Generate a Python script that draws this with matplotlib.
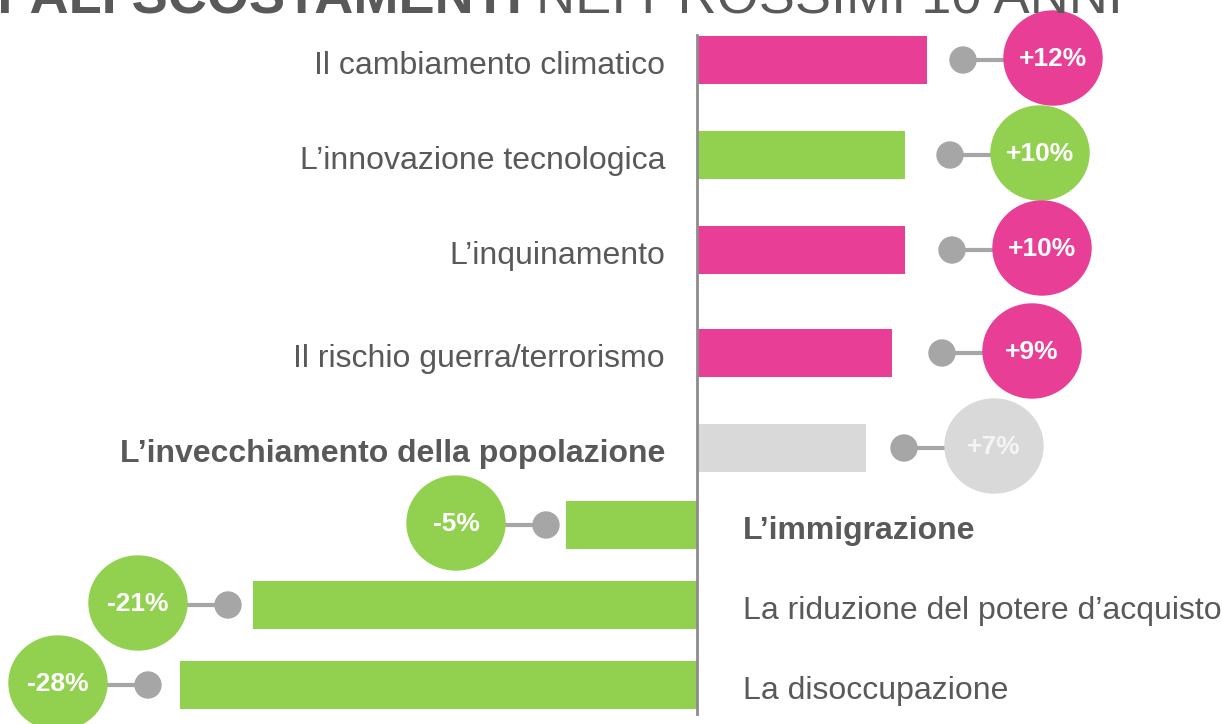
import matplotlib
matplotlib.use("Agg")
import matplotlib.pyplot as plt
from matplotlib.patches import Ellipse

# data (bar = current level, prev = grey dot, delta = bubble)
labels = ["Il cambiamento climatico", "L\u2019innovazione tecnologica", "L\u2019inquinamento",
          "Il rischio guerra/terrorismo", "L\u2019invecchiamento della popolazione",
          "L\u2019immigrazione", "La riduzione del potere d\u2019acquisto", "La disoccupazione"]
bar_vals = [23.0, 20.8, 20.8, 19.5, 16.9, -13.1, -44.4, -51.7]
prev_vals = [26.6, 25.3, 25.5, 24.5, 20.7, -15.1, -46.9, -54.9]
deltas = ["+12%", "+10%", "+10%", "+9%", "+7%", "-5%", "-21%", "-28%"]
colors = ["#E83E96", "#92D050", "#E83E96", "#E83E96", "#D9D9D9", "#92D050", "#92D050", "#92D050"]
bold_rows = [4, 5]

# layout (pixel rows, top to bottom)
row_y = [60, 155, 250, 353, 448, 525, 605, 685]

TXT = "#595959"
DOT = "#A6A6A6"
plt.rcParams["font.family"] = ["Liberation Sans", "DejaVu Sans"]

fig = plt.figure(figsize=(12.22, 7.24), dpi=100)
ax = fig.add_axes([0, 0, 1, 1])
ax.set_xlim(-69.7, 52.5)
ax.set_ylim(724, 0)
ax.axis("off")

ax.barh(row_y, bar_vals, height=48, color=colors, zorder=2)
ax.plot([0, 0], [35, 714], color="#8C8C8C", lw=2, zorder=3)

for i in range(len(labels)):
    y = row_y[i]
    v = bar_vals[i]
    p = prev_vals[i]
    sign = 1 if v > 0 else -1
    cx = p + sign * 9.0
    # connector + grey dot
    ax.plot([p, cx], [y, y], color=DOT, lw=3, zorder=3)
    ax.add_patch(Ellipse((p, y), 2.6, 26, color=DOT, zorder=4))
    # bubble with the change
    ax.add_patch(Ellipse((cx, y - 2), 9.8, 94, color=colors[i], zorder=4))
    txt_col = "white" if colors[i] != "#D9D9D9" else "#F4F4F4"
    ax.text(cx, y - 1, deltas[i], color=txt_col, fontsize=19, fontweight="bold",
            ha="center", va="center", zorder=5)
    w = "bold" if i in bold_rows else "normal"
    if v > 0:
        ax.text(-3.2, y + 6, labels[i], color=TXT, fontsize=23, fontweight=w,
                ha="right", va="center")
    else:
        ax.text(4.6, y + 6, labels[i], color=TXT, fontsize=23, fontweight=w,
                ha="left", va="center")

# title, mostly cut off at the top edge as in the source
fig.text(522 / 1222, 1 - 14 / 724, "I PRINCIPALI SCOSTAMENTI", color=TXT, fontsize=39,
         fontweight="bold", ha="right", va="baseline")
fig.text(536 / 1222, 1 - 14 / 724, "NEI PROSSIMI 10 ANNI", color=TXT, fontsize=39,
         ha="left", va="baseline")

fig.savefig("out.png", dpi=100)
